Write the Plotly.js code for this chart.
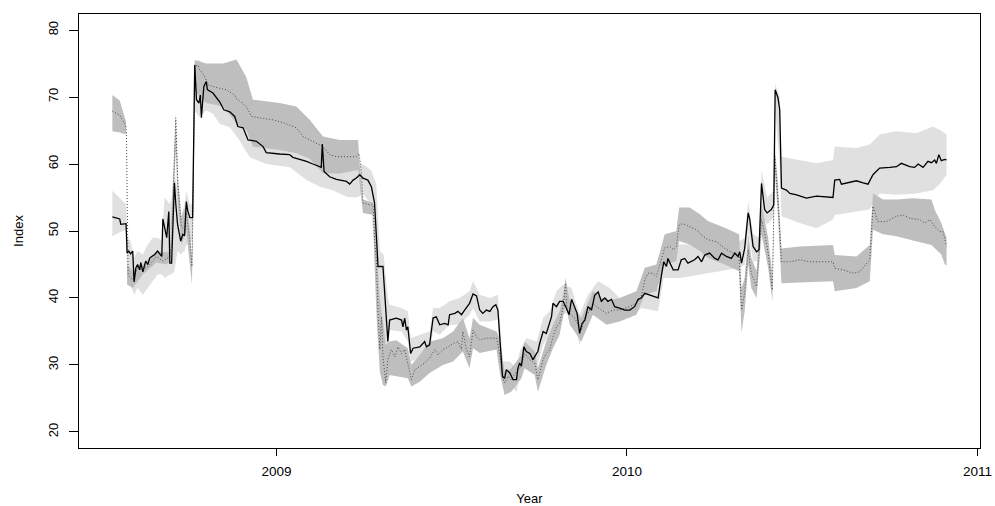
<!DOCTYPE html>
<html>
<head>
<meta charset="utf-8">
<script src="https://cdn.plot.ly/plotly-3.0.1.min.js"></script>
<style>html,body{margin:0;padding:0;background:#fff;}#chart{width:995px;height:506px;}</style>
</head>
<body>
<div id="chart"></div>
<script>
// ---- Solid series (black line) ----
const solidX = [
2008.532,2008.553,2008.556,2008.568,2008.571,2008.574,2008.579,2008.584,2008.590,2008.594,
2008.599,2008.604,2008.610,2008.613,2008.619,2008.627,2008.633,2008.639,2008.647,2008.653,
2008.661,2008.667,2008.673,2008.676,2008.681,2008.687,2008.693,2008.696,2008.701,2008.709,
2008.713,2008.718,2008.727,2008.733,2008.738,2008.743,2008.747,2008.753,2008.761,2008.767,
2008.772,2008.779,2008.783,2008.786,2008.793,2008.800,2008.803,2008.819,2008.838,2008.850,
2008.867,2008.881,2008.890,2008.905,2008.919,2008.943,2008.962,2008.971,2009.009,2009.038,
2009.047,2009.086,2009.104,2009.128,2009.131,2009.136,2009.152,2009.171,2009.200,2009.209,
2009.219,2009.228,2009.238,2009.247,2009.261,2009.271,2009.280,2009.285,2009.290,2009.304,
2009.318,2009.323,2009.342,2009.357,2009.361,2009.366,2009.371,2009.375,2009.383,2009.390,
2009.409,2009.423,2009.428,2009.437,2009.447,2009.456,2009.466,2009.480,2009.490,2009.494,
2009.509,2009.518,2009.528,2009.537,2009.551,2009.561,2009.571,2009.580,2009.589,2009.599,
2009.609,2009.618,2009.626,2009.632,2009.637,2009.645,2009.651,2009.656,2009.666,2009.675,
2009.685,2009.689,2009.694,2009.699,2009.706,2009.713,2009.723,2009.732,2009.742,2009.746,
2009.751,2009.761,2009.770,2009.780,2009.785,2009.789,2009.799,2009.808,2009.818,2009.827,
2009.835,2009.842,2009.851,2009.858,2009.865,2009.872,2009.880,2009.889,2009.899,2009.908,
2009.918,2009.927,2009.937,2009.946,2009.956,2009.965,2009.979,2009.994,2010.008,2010.022,
2010.032,2010.041,2010.051,2010.065,2010.079,2010.089,2010.098,2010.105,2010.113,2010.117,
2010.132,2010.146,2010.155,2010.165,2010.174,2010.193,2010.203,2010.213,2010.222,2010.236,
2010.251,2010.260,2010.270,2010.284,2010.298,2010.308,2010.317,2010.322,2010.327,2010.336,
2010.346,2010.350,2010.360,2010.370,2010.377,2010.384,2010.393,2010.400,2010.412,2010.419,
2010.423,2010.431,2010.436,2010.441,2010.455,2010.465,2010.484,2010.512,2010.541,2010.560,
2010.588,2010.593,2010.607,2010.612,2010.626,2010.655,2010.674,2010.688,2010.702,2010.721,
2010.750,2010.769,2010.783,2010.807,2010.821,2010.831,2010.845,2010.859,2010.869,2010.878,
2010.883,2010.890,2010.897,2010.907,2010.912];
const solidY = [
52.1,51.8,51.0,51.1,51.1,46.7,47.0,46.6,47.0,42.4,
44.5,45.0,44.2,45.3,43.9,45.5,45.0,46.0,46.3,46.5,
47.0,46.6,46.2,51.8,50.5,49.0,52.9,45.2,45.2,57.2,
54.0,51.0,48.5,49.5,49.3,54.4,53.0,52.0,52.0,74.8,
69.6,69.1,70.3,66.9,71.6,72.3,71.1,70.6,69.3,68.1,
67.8,67.1,65.6,65.4,63.6,63.4,62.6,61.7,61.5,61.4,
61.0,60.4,60.0,59.5,63.0,58.9,58.1,57.7,57.4,57.0,
57.6,57.9,58.4,57.9,57.6,56.6,54.2,49.7,44.7,44.7,
33.5,36.7,37.0,36.7,35.7,37.0,35.2,35.7,31.7,32.5,
32.7,33.5,32.7,33.0,37.0,37.2,36.0,36.2,36.0,37.5,
37.7,38.0,37.5,38.2,39.2,40.6,40.3,38.2,37.7,38.2,
38.0,38.7,39.0,38.2,34.2,28.3,28.0,29.3,28.8,27.8,
27.8,29.5,30.3,29.8,32.7,32.0,31.7,30.8,31.7,32.0,
33.2,35.0,34.7,36.2,37.2,39.2,38.7,39.5,39.5,38.5,
37.5,39.8,38.7,37.7,34.7,36.2,36.7,38.7,38.2,40.4,
40.9,39.5,40.0,39.5,39.8,38.7,38.5,38.2,38.2,38.7,
39.8,40.0,40.7,40.4,40.2,40.0,43.2,45.4,44.7,45.9,
44.2,44.2,45.7,45.9,45.2,45.7,46.2,45.4,46.4,46.7,
45.9,45.7,46.7,46.2,45.9,46.7,46.2,46.9,45.2,47.4,
52.7,51.9,47.7,46.9,47.2,57.1,53.2,52.7,53.2,53.9,
71.1,69.9,68.1,56.4,56.1,55.6,55.4,54.9,55.2,55.1,
55.0,57.6,57.7,57.0,57.2,57.5,57.2,57.0,58.4,59.4,
59.5,59.6,60.1,59.6,59.5,60.0,59.5,60.4,60.2,60.6,
60.1,61.4,60.5,60.7,60.6];

// ---- Dotted series ----
const dotX = [
2008.532,2008.553,2008.570,2008.572,2008.577,2008.591,2008.604,2008.619,2008.639,2008.658,
2008.676,2008.686,2008.696,2008.701,2008.713,2008.719,2008.729,2008.738,2008.743,2008.753,
2008.759,2008.762,2008.767,2008.776,2008.781,2008.795,2008.805,2008.838,2008.857,2008.881,
2008.886,2008.914,2008.929,2008.952,2008.990,2009.024,2009.057,2009.076,2009.095,2009.133,
2009.152,2009.171,2009.228,2009.236,2009.243,2009.247,2009.266,2009.276,2009.280,2009.285,
2009.290,2009.295,2009.300,2009.304,2009.312,2009.318,2009.328,2009.338,2009.347,2009.357,
2009.366,2009.375,2009.385,2009.395,2009.409,2009.423,2009.437,2009.452,2009.461,2009.475,
2009.490,2009.504,2009.518,2009.528,2009.532,2009.542,2009.551,2009.561,2009.571,2009.580,
2009.599,2009.628,2009.635,2009.642,2009.647,2009.651,2009.661,2009.670,2009.685,2009.699,
2009.708,2009.723,2009.737,2009.746,2009.751,2009.761,2009.770,2009.780,2009.789,2009.799,
2009.808,2009.818,2009.825,2009.829,2009.837,2009.851,2009.861,2009.870,2009.880,2009.894,
2009.903,2009.913,2009.927,2009.942,2009.960,2009.979,2010.008,2010.027,2010.041,2010.051,
2010.060,2010.074,2010.084,2010.098,2010.108,2010.122,2010.132,2010.141,2010.149,2010.160,
2010.179,2010.198,2010.213,2010.231,2010.255,2010.279,2010.303,2010.320,2010.327,2010.336,
2010.346,2010.355,2010.370,2010.384,2010.393,2010.403,2010.415,2010.422,2010.431,2010.438,
2010.441,2010.465,2010.493,2010.522,2010.550,2010.588,2010.593,2010.617,2010.645,2010.664,
2010.693,2010.702,2010.716,2010.740,2010.769,2010.788,2010.807,2010.835,2010.850,2010.864,
2010.878,2010.893,2010.902,2010.912];
const dotY = [
67.9,67.3,65.8,65.1,43.4,42.7,44.5,44.2,45.0,46.2,
45.5,45.9,46.2,48.0,66.9,57.1,50.6,50.2,52.7,48.7,
44.7,53.7,74.6,74.8,74.1,73.1,71.8,71.3,71.1,70.3,
69.8,68.6,67.1,66.9,66.6,66.1,65.4,64.1,63.6,62.6,
61.4,61.1,61.1,61.6,58.6,54.2,53.9,53.9,48.7,45.7,
38.2,32.3,37.2,31.2,27.3,30.8,32.3,31.2,32.7,31.7,
32.3,30.3,27.8,29.3,29.8,30.3,31.0,32.3,31.5,32.3,
32.7,33.2,33.5,32.3,35.0,32.3,31.2,35.2,34.2,33.7,
34.0,34.0,32.3,29.8,27.8,27.3,28.3,27.8,29.0,29.8,
31.7,30.8,30.3,27.8,28.8,30.8,31.7,32.3,34.2,35.7,
36.2,38.7,42.2,38.2,37.7,37.0,36.0,35.2,37.0,38.2,
39.2,38.7,38.2,37.7,38.2,38.2,38.7,39.2,40.2,42.7,
43.7,43.7,43.2,45.7,47.5,47.7,47.2,47.7,50.9,51.1,
50.7,50.2,49.4,48.7,48.4,47.4,46.7,46.4,38.2,40.7,
47.2,43.7,41.7,51.7,49.7,46.7,41.2,61.1,54.7,47.7,
45.4,45.4,45.7,45.4,45.4,45.4,44.4,44.2,43.7,43.9,
45.7,53.7,51.4,51.4,52.2,52.4,51.9,51.7,51.2,51.7,
50.7,49.9,49.9,47.7];

// ---- Light band (around solid series) ----
const lightX = [
2008.532,2008.553,2008.571,2008.574,2008.584,2008.594,2008.604,2008.619,2008.633,2008.647,
2008.661,2008.673,2008.681,2008.696,2008.701,2008.709,2008.718,2008.727,2008.738,2008.743,
2008.753,2008.761,2008.767,2008.781,2008.800,2008.819,2008.838,2008.867,2008.895,2008.924,
2008.971,2009.038,2009.086,2009.124,2009.161,2009.200,2009.228,2009.247,2009.271,2009.285,
2009.295,2009.306,2009.318,2009.323,2009.357,2009.375,2009.383,2009.409,2009.437,2009.447,
2009.466,2009.494,2009.523,2009.551,2009.561,2009.580,2009.609,2009.632,2009.637,2009.646,
2009.666,2009.685,2009.694,2009.713,2009.742,2009.761,2009.780,2009.799,2009.818,2009.842,
2009.865,2009.889,2009.918,2009.951,2009.979,2010.008,2010.041,2010.089,2010.105,2010.151,
2010.208,2010.265,2010.322,2010.336,2010.346,2010.360,2010.377,2010.384,2010.400,2010.419,
2010.423,2010.436,2010.441,2010.493,2010.541,2010.588,2010.593,2010.655,2010.693,2010.721,
2010.769,2010.826,2010.873,2010.893,2010.912];
const lightHi = [
56.0,55.0,54.0,49.0,48.5,46.0,47.0,46.5,48.0,49.0,
49.0,48.5,55.0,54.0,55.0,58.5,56.0,52.0,54.0,56.0,
54.0,54.0,75.5,75.5,74.5,73.0,71.5,70.0,68.5,66.0,
64.0,63.5,62.5,61.5,60.0,59.5,60.0,60.0,59.0,57.0,
47.0,46.5,40.0,39.0,38.5,38.0,34.0,34.5,35.0,38.5,
38.5,39.5,40.0,41.0,42.5,40.5,40.0,40.5,37.0,30.5,
30.5,29.5,32.0,34.0,33.5,37.0,38.0,41.0,42.0,41.5,
37.5,40.5,42.5,41.5,40.0,40.0,41.5,41.5,47.5,48.0,
48.0,48.5,48.5,49.0,54.5,49.5,49.0,59.0,55.0,56.0,
72.0,70.0,61.1,60.6,60.1,60.6,62.6,62.4,62.9,64.4,
64.9,64.6,65.6,65.1,64.4];
const lightLo = [
49.2,49.8,50.2,44.0,42.0,40.5,41.5,40.5,41.5,42.5,
43.5,43.5,43.0,43.5,43.5,44.0,47.0,46.5,47.0,48.0,
48.0,49.0,68.0,67.0,68.0,67.5,66.0,65.5,63.5,61.0,
60.0,59.5,57.6,56.6,56.1,55.1,55.0,55.5,54.0,42.0,
39.0,33.5,31.5,35.2,35.0,33.5,30.5,31.0,31.5,35.0,
34.5,36.0,36.0,37.5,38.5,36.5,36.5,36.8,31.0,26.5,
27.0,26.0,28.5,30.5,29.5,33.0,34.5,37.0,37.5,38.0,
33.0,36.5,38.5,38.0,37.0,37.0,38.5,38.0,43.0,43.0,
43.5,44.0,44.5,45.0,50.0,45.5,45.5,52.0,51.0,52.0,
68.0,60.0,52.2,51.2,50.4,51.7,52.4,52.9,53.2,55.6,
55.4,55.6,56.1,57.0,58.4];

// ---- Dark band (around dotted series) ----
const darkX = [
2008.532,2008.553,2008.571,2008.574,2008.590,2008.619,2008.658,2008.686,2008.696,2008.713,
2008.719,2008.729,2008.743,2008.753,2008.759,2008.762,2008.767,2008.781,2008.800,2008.848,
2008.886,2008.914,2008.933,2009.009,2009.057,2009.095,2009.133,2009.181,2009.233,2009.238,
2009.247,2009.276,2009.280,2009.286,2009.295,2009.304,2009.312,2009.323,2009.342,2009.375,
2009.385,2009.409,2009.437,2009.475,2009.504,2009.532,2009.551,2009.561,2009.580,2009.628,
2009.637,2009.651,2009.670,2009.699,2009.708,2009.737,2009.746,2009.770,2009.789,2009.808,
2009.818,2009.825,2009.837,2009.870,2009.903,2009.942,2009.979,2010.027,2010.051,2010.084,
2010.108,2010.141,2010.149,2010.179,2010.208,2010.231,2010.279,2010.320,2010.327,2010.336,
2010.346,2010.355,2010.370,2010.384,2010.403,2010.415,2010.422,2010.431,2010.441,2010.493,
2010.588,2010.593,2010.655,2010.693,2010.702,2010.731,2010.769,2010.816,2010.869,2010.878,
2010.897,2010.907,2010.912];
const darkHi = [
70.3,69.5,66.3,45.0,44.0,45.0,47.0,46.8,47.0,67.5,
58.0,52.0,54.0,50.0,46.0,55.0,75.5,75.3,75.0,75.0,
75.6,73.0,69.6,69.1,68.6,66.6,64.1,63.6,63.6,59.6,
54.7,54.2,52.2,47.0,40.0,36.5,33.0,33.5,33.7,32.5,
30.0,31.5,33.5,34.0,35.0,37.0,34.0,37.0,36.0,35.0,
34.0,29.0,29.5,31.5,33.5,32.0,29.5,33.5,36.0,38.0,
40.5,43.0,39.5,37.0,41.0,39.5,40.0,41.0,44.5,45.0,
49.5,50.0,53.5,53.5,52.5,51.5,50.5,49.5,41.5,43.0,
49.5,46.0,44.0,54.0,49.0,43.5,62.5,57.0,47.4,47.7,
47.9,46.4,46.2,47.9,55.6,54.7,54.7,54.9,54.7,53.2,
51.2,49.7,49.0];
const darkLo = [
64.9,64.7,64.4,42.0,41.5,43.5,45.3,45.0,45.5,62.0,
54.0,48.0,50.0,45.0,42.0,50.0,71.0,70.0,69.1,68.6,
66.1,65.1,62.6,62.1,61.6,60.8,58.6,58.6,59.1,57.5,
52.7,52.4,45.0,37.0,29.0,27.0,26.8,28.5,28.3,28.0,
26.8,27.5,28.8,30.0,30.5,32.0,29.5,32.5,31.8,32.3,
29.0,25.5,26.0,28.0,29.5,28.5,26.0,30.0,32.5,34.5,
37.0,39.0,36.0,33.5,37.5,36.0,36.5,37.5,40.5,41.0,
45.0,45.5,48.5,48.0,47.0,46.0,45.0,44.0,34.8,38.0,
45.0,41.5,40.0,49.5,44.5,39.5,59.0,52.0,42.2,42.3,
42.5,41.0,41.5,42.5,50.2,49.5,49.2,48.6,47.9,47.5,
46.5,45.0,44.9];

// ---- Axes ----
const xTickVals = [2009, 2010, 2011];
const xTickText = ['2009', '2010', '2011'];
const yTickVals = [20, 30, 40, 50, 60, 70, 80];

function band(xs, hi, lo, color) {
  return {
    x: xs.concat(xs.slice().reverse()),
    y: hi.concat(lo.slice().reverse()),
    type: 'scatter', mode: 'lines', fill: 'toself',
    fillcolor: color, line: {width: 0, color: color}, hoverinfo: 'skip'
  };
}

const traces = [
  band(lightX, lightHi, lightLo, '#e0e0e0'),
  band(darkX, darkHi, darkLo, '#bebebe'),
  {x: dotX, y: dotY, type: 'scatter', mode: 'lines',
   line: {color: '#4a4a4a', width: 1, dash: '1px,2px'}},
  {x: solidX, y: solidY, type: 'scatter', mode: 'lines',
   line: {color: '#000000', width: 1.3}}
];

const axisCommon = {
  showgrid: false, zeroline: false, showline: true, mirror: true,
  linecolor: '#000', linewidth: 1, ticks: 'outside', tickcolor: '#000',
  tickwidth: 1
};

const layout = {
  width: 995, height: 506,
  margin: {l: 79, r: 15, t: 14, b: 58, pad: 0},
  paper_bgcolor: '#ffffff', plot_bgcolor: '#ffffff',
  showlegend: false,
  font: {family: 'Liberation Sans, Arial, sans-serif', size: 13, color: '#000'},
  xaxis: Object.assign({}, axisCommon, {
    range: [2008.4368, 2011.0074],
    tickmode: 'array', tickvals: xTickVals, ticktext: xTickText,
    ticklen: 7, ticklabelstandoff: 4, tickfont: {size: 13.5},
    title: {text: 'Year', standoff: 17, font: {size: 13}}
  }),
  yaxis: Object.assign({}, axisCommon, {
    range: [17.6, 82.4],
    tickmode: 'array', tickvals: yTickVals,
    ticklen: 9, tickangle: -90, ticklabelstandoff: 6,
    title: {text: 'Index', standoff: 19, font: {size: 13}}
  })
};

Plotly.newPlot('chart', traces, layout, {staticPlot: true, displayModeBar: false});
</script>
</body>
</html>
